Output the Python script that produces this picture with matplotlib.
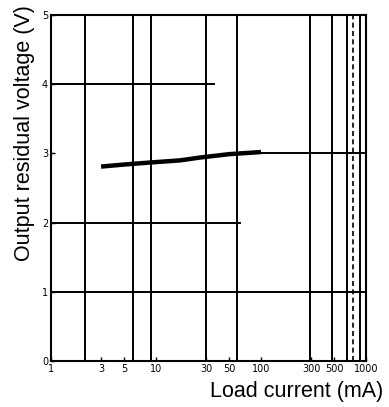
import numpy as np
import matplotlib.pyplot as plt
from matplotlib.ticker import FixedLocator, NullFormatter

# curve
current = [3, 5, 9, 17, 26, 50, 100]
voltage = [2.81, 2.84, 2.87, 2.90, 2.94, 2.99, 3.02]

xticks = [1, 3, 5, 10, 30, 50, 100, 300, 500, 1000]
xlabels = ["1", "3", "5", "10", "30", "50", "100", "300", "500", "1000"]
yticks = [0, 1, 2, 3, 4, 5]

# heavy grid lines as printed in the sheet
vlines = [2.1, 6, 8.9, 30, 59, 290, 475, 660, 870]
hlines = [(4, 1, 36), (3, 100, 1000), (2, 1, 63), (1, 1, 1000)]

fig = plt.figure(figsize=(3.89, 4.07), dpi=100)
ax = fig.add_axes([0.131, 0.113, 0.81, 0.85])

for v in vlines:
    ax.axvline(v, color="black", lw=1.4)
ax.axvline(750, color="black", lw=1.2, ls=(0, (3, 2)))
for y, x0, x1 in hlines:
    ax.plot([x0, x1], [y, y], color="black", lw=1.4)

ax.plot(current, voltage, color="black", lw=3.2, solid_capstyle="butt")

ax.set_xscale("log")
ax.set_xlim(1, 1000)
ax.set_ylim(0, 5)
ax.xaxis.set_major_locator(FixedLocator(xticks))
ax.set_xticklabels(xlabels)
ax.xaxis.set_minor_formatter(NullFormatter())
ax.set_yticks(yticks)
ax.tick_params(axis="both", which="both", direction="in", length=3, width=1,
               labelsize=7, pad=2)
ax.tick_params(axis="x", which="minor", length=0)

for s in ax.spines.values():
    s.set_linewidth(1.5)

fig.text(0.985, 0.037, "Load current (mA)", ha="right", va="center",
         fontsize=15.5, family="Liberation Sans")
fig.text(0.062, 0.673, "Output residual voltage (V)", ha="center", va="center",
         rotation=90, fontsize=15.5, family="Liberation Sans")

fig.savefig("out.png", dpi=100)
